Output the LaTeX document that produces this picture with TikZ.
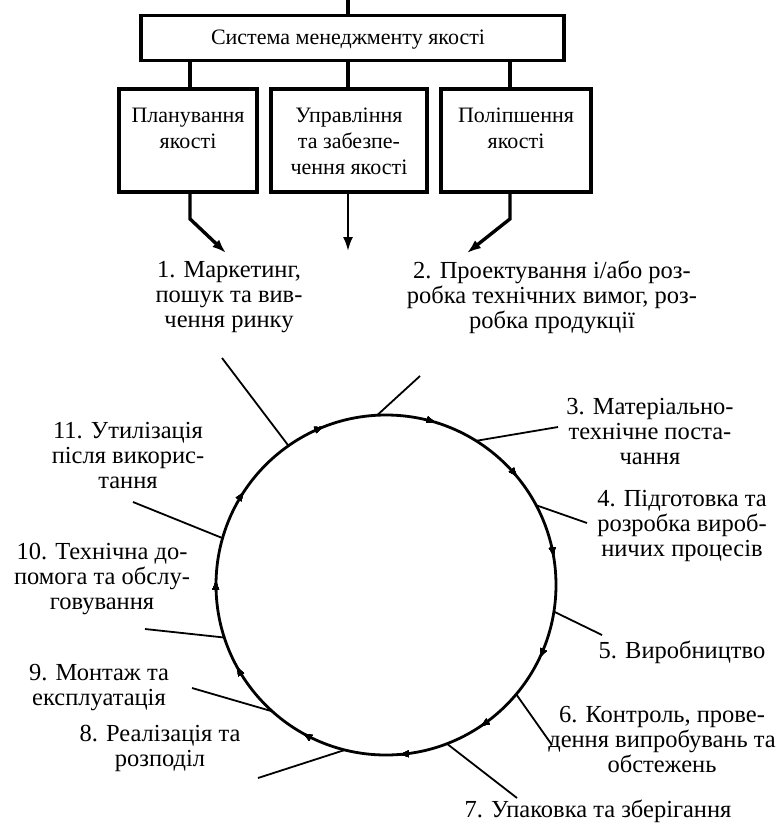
\documentclass[tikz,border=0pt]{standalone}
\usepackage{fontspec}
\setmainfont{Liberation Serif}
\usetikzlibrary{arrows.meta,decorations.markings,calc}
\begin{document}
\begin{tikzpicture}[x=1pt,y=-1pt,
  txt/.style={font=\fontsize{22}{26}\selectfont, align=center, inner sep=0pt},
  lbl/.style={font=\fontsize{24.5}{25}\selectfont, align=center, inner sep=0pt},
  bx/.style={draw, line width=3.8pt, inner sep=0pt},
  link/.style={line width=3.2pt},
  tick/.style={line width=1.8pt},
  bigarrow/.style={line width=3.4pt, -{Latex[length=14pt,width=10pt]}},
  ring/.style={line width=2.8pt},
  cmark/.style={decoration={markings,
     mark=at position #1 with {\arrowreversed{Latex[length=11pt,width=7pt]}}}, postaction={decorate}}
]
\useasboundingbox (0,0) rectangle (784,827);

% top part
\node[bx, minimum width=423pt, minimum height=45pt] (main) at (352.5,38) {};
\node[txt] (maint) at (348,40) {Система менеджменту якості};
\coordinate (top) at (348,0);
\draw[link] (top) -- (main.north -| top);

\node[bx, minimum width=138pt, minimum height=103pt] (b1) at (188,140.5) {};
\node[bx, minimum width=156pt, minimum height=103pt] (b2) at (349,140.5) {};
\node[bx, minimum width=150pt, minimum height=103pt] (b3) at (516,140.5) {};
\node[txt] (b1t) at (188,128) {Планування\\якості};
\node[txt] (b2t) at (349,141) {Управління\\та забезпе-\\чення якості};
\node[txt] (b3t) at (516,128) {Поліпшення\\якості};

\coordinate (k1) at (190,0);
\coordinate (k2) at (348,0);
\coordinate (k3) at (510,0);
\draw[link] (main.south -| k1) -- (b1.north -| k1);
\draw[link] (main.south -| k2) -- (b2.north -| k2);
\draw[link] (main.south -| k3) -- (b3.north -| k3);

\coordinate (t1) at (226,253);
\coordinate (t2) at (348,251);
\coordinate (t3) at (467,253);
\draw[bigarrow] (b1.south -| k1) -- ++(0,25) -- (t1);
\draw[bigarrow, line width=2.2pt] (b2.south -| k2) -- (t2);
\draw[bigarrow] (b3.south -| k3) -- ++(0,25) -- (t3);

% ring
\coordinate (cc) at (386,585);
\draw[ring,
  cmark=0.025, cmark=0.108, cmark=0.201, cmark=0.308, cmark=0.406, cmark=0.494,
  cmark=0.578, cmark=0.667, cmark=0.761, cmark=0.842, cmark=0.928]
  (cc) circle[radius=170pt];

% labels
\node[lbl] (n1) at (229,297) {1. Маркетинг,\\пошук та вив-\\чення ринку};
\node[lbl] (n2) at (552,297) {2. Проектування і/або роз-\\робка технічних вимог, роз-\\робка продукції};
\node[lbl] (n3) at (650,432) {3. Матеріально-\\технічне поста-\\чання};
\node[lbl] (n4) at (682,526) {4. Підготовка та\\розробка вироб-\\ничих процесів};
\node[lbl] (n5) at (682,652) {5. Виробництво};
\node[lbl] (n6) at (662,739) {6. Контроль, прове-\\дення випробувань та\\обстежень};
\node[lbl] (n7) at (598,811) {7. Упаковка та зберігання};
\node[lbl] (n8) at (160,748) {8. Реалізація та\\розподіл};
\node[lbl] (n9) at (99,688) {9. Монтаж та\\експлуатація};
\node[lbl] (n10) at (102,579) {10. Технічна до-\\помога та обслу-\\говування};
\node[lbl] (n11) at (128,456) {11. Утилізація\\після викорис-\\тання};

% ticks
\coordinate (e1) at (222,358);
\coordinate (e2) at (420,376);
\coordinate (e3) at (558,427);
\coordinate (e4) at (587,523);
\coordinate (e5) at (602,635);
\coordinate (e6) at (552,745);
\coordinate (e7) at (517,798);
\coordinate (e8) at (258,778);
\coordinate (e9) at (192,688);
\coordinate (e10) at (145,629);
\coordinate (e11) at (133,502);
\foreach \i/\a in {1/125,2/93,3/58,4/28,5/-9,6/-40,7/-69,8/-104,9/-132,10/-162,11/164}{
  \coordinate (c\i) at ($(cc)+(\a:170pt)$);
  \draw[tick] (c\i) -- (e\i);
}
\end{tikzpicture}
\end{document}
